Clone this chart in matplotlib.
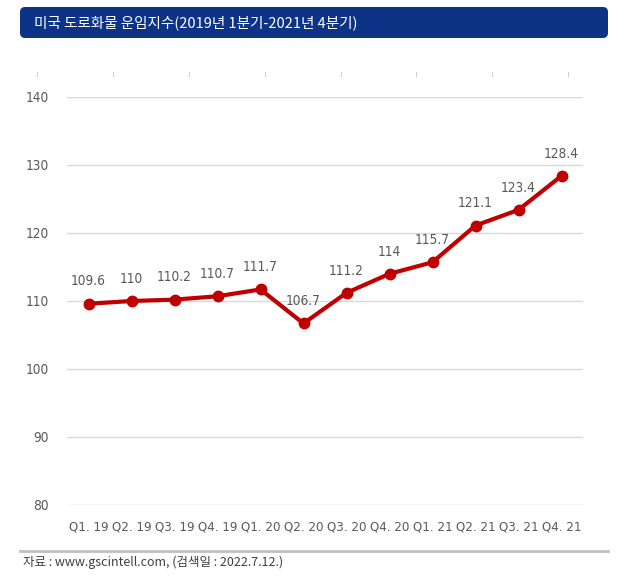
import matplotlib
matplotlib.use("Agg")
import matplotlib.pyplot as plt
from matplotlib.patches import FancyBboxPatch
from matplotlib.lines import Line2D
from matplotlib import font_manager as fm

categories = ["Q1. 19", "Q2. 19", "Q3. 19", "Q4. 19", "Q1. 20", "Q2. 20",
              "Q3. 20", "Q4. 20", "Q1. 21", "Q2. 21", "Q3. 21", "Q4. 21"]
values = [109.6, 110, 110.2, 110.7, 111.7, 106.7, 111.2, 114, 115.7, 121.1, 123.4, 128.4]
value_labels = ["109.6", "110", "110.2", "110.7", "111.7", "106.7", "111.2", "114",
                "115.7", "121.1", "123.4", "128.4"]
yticks = [80, 90, 100, 110, 120, 130, 140]

title = "미국 도로화물 운임지수(2019년 1분기-2021년 4분기)"
source = "자료 : www.gscintell.com, (검색일 : 2022.7.12.)"

# pick a condensed sans font if one is installed
cond = None
for f in fm.fontManager.ttflist:
    nm = f.name.lower()
    if ("narrow" in nm or "condensed" in nm or str(f.stretch) in ("condensed", "semi-condensed")) \
            and f.style == "normal" and f.weight in (400, "normal", "regular") and "mono" not in nm \
            and "serif" not in nm.replace("sans", ""):
        cond = f.fname
        break


def numfp(size):
    if cond:
        return fm.FontProperties(fname=cond, size=size)
    return fm.FontProperties(family="Roboto", size=size * 0.9)


W, H = 636, 582
fig = plt.figure(figsize=(W / 100, H / 100), dpi=100)
fig.patch.set_facecolor("white")

kr_font = ["Noto Sans CJK KR", "DejaVu Sans"]
gray = "#595959"

ax = fig.add_axes([67 / W, 1 - 505 / H, (583 - 67) / W, (505 - 97) / H])
x = list(range(len(categories)))
ax.plot(x, values, color="#C00000", lw=3, marker="o", ms=7.5, zorder=3,
        solid_capstyle="round")
for xi, v, lab in zip(x, values, value_labels):
    ax.annotate(lab, (xi, v), xytext=(0, 11), textcoords="offset points",
                ha="center", va="bottom", color=gray, fontproperties=numfp(9.8))

ax.set_xlim(-0.5, len(categories) - 0.5)
ax.set_ylim(80, 140)
ax.set_yticks(yticks)
ax.set_yticklabels([str(t) for t in yticks], color=gray, fontproperties=numfp(9.8))
ax.set_xticks(x)
ax.set_xticklabels(categories, color=gray, fontproperties=numfp(9.5))
ax.tick_params(axis="both", length=0)
ax.tick_params(axis="y", pad=13)
ax.tick_params(axis="x", pad=11)
ax.grid(axis="y", color="#D9D9D9", lw=1)
ax.set_axisbelow(True)
for s in ax.spines.values():
    s.set_visible(False)

# title box
box = FancyBboxPatch((20 / W, 1 - 38 / H), (608 - 20) / W, (38 - 7) / H,
                     boxstyle="round,pad=0,rounding_size=0.008",
                     transform=fig.transFigure, facecolor="#0D3386",
                     edgecolor="none", mutation_aspect=W / H)
fig.patches.append(box)
fig.text(34 / W, 1 - 23 / H, title, color="white", fontsize=10.5,
         family=kr_font, va="center", ha="left", weight="medium")

# faint top tick marks
for px in [37, 113, 189, 265, 341, 416, 492, 568]:
    fig.lines.append(Line2D([px / W, px / W], [1 - 72 / H, 1 - 76 / H],
                            transform=fig.transFigure, color="#D0D0D0", lw=0.8))

# bottom separator and source
fig.lines.append(Line2D([20 / W, 608 / W], [1 - 551 / H, 1 - 551 / H],
                        transform=fig.transFigure, color="#BFBFBF", lw=2))
fig.text(23 / W, 1 - 562 / H, source, color="#404040", fontsize=9,
         family=kr_font, va="center", ha="left")

fig.savefig("out.png", dpi=100)
